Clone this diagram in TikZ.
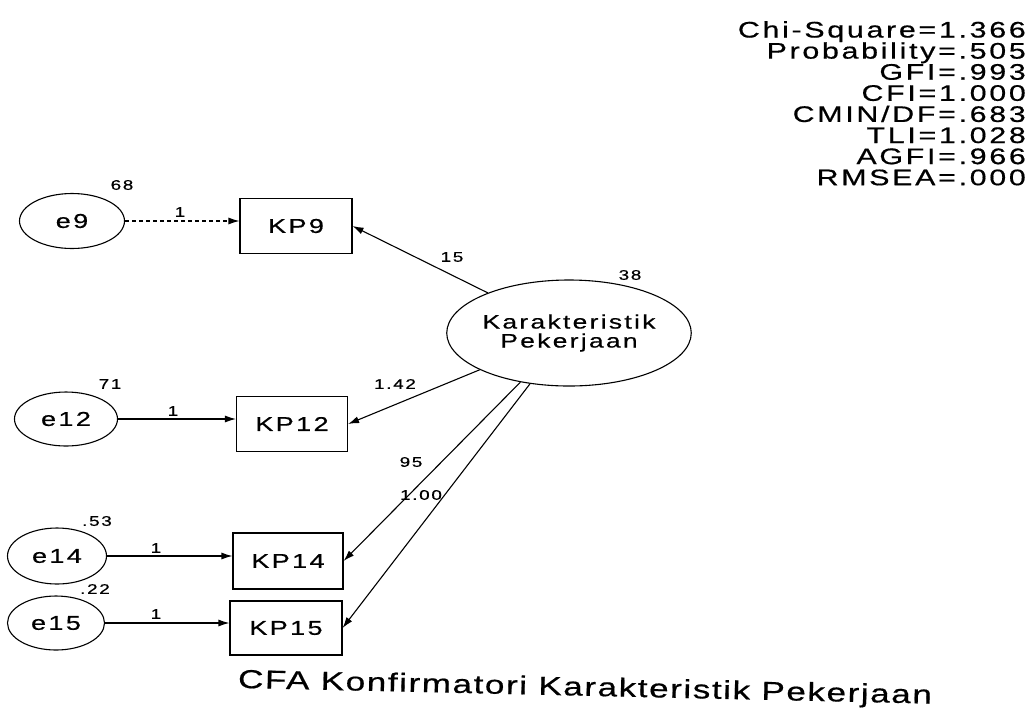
\documentclass[tikz,border=0pt]{standalone}
\usepackage{fontspec}
\setmainfont{Liberation Sans}
\newfontfamily\amosfont[FakeStretch=1.35,LetterSpace=12,FakeBold=0.6]{Liberation Sans}
\newfontfamily\titlefont[FakeStretch=1.35,LetterSpace=6,FakeBold=0.6]{Liberation Sans}
\usetikzlibrary{shapes.geometric,arrows.meta}
\begin{document}
\begin{tikzpicture}[x=1pt,y=-1pt,
  errv/.style={draw,ellipse,inner sep=0pt,line width=1.1pt,font=\amosfont\fontsize{20}{22}\selectfont},
  latv/.style={draw,ellipse,inner sep=0pt,line width=1.1pt,align=center,font=\amosfont\fontsize{19.5}{19}\selectfont},
  obs/.style={draw,rectangle,inner sep=0pt,line width=1.1pt,font=\amosfont\fontsize{20}{22}\selectfont},
  reg/.style={-{Latex[length=11pt,width=7pt]},line width=1.1pt},
  num/.style={font=\amosfont\fontsize{14}{15}\selectfont,inner sep=0pt},
  stats/.style={font=\amosfont\fontsize{22.5}{21.1}\selectfont,inner sep=0pt,align=right}]
\path[use as bounding box] (0,0) rectangle (1030,716);
% latent
\node[latv,minimum width=218pt,minimum height=106pt] (lat) at (569,333) {Karakteristik\\Pekerjaan};
% error terms
\node[errv,minimum width=105pt,minimum height=55pt] (e9) at (72,221) {e9};
\node[errv,minimum width=103pt,minimum height=54pt] (e12) at (66,419) {e12};
\node[errv,minimum width=99pt,minimum height=56pt] (e14) at (57,556) {e14};
\node[errv,minimum width=97pt,minimum height=54pt] (e15) at (56,623) {e15};
% observed
\node[obs,minimum width=112pt,minimum height=55pt] (kp9) at (296,226) {KP9};
\node[obs,minimum width=111pt,minimum height=55pt] (kp12) at (292,424) {KP12};
\node[obs,minimum width=110pt,minimum height=56pt] (kp14) at (288,561) {KP14};
\node[obs,minimum width=112pt,minimum height=54pt] (kp15) at (286,628) {KP15};
% error paths
\draw[reg,dash pattern=on 4pt off 3pt] (e9.east) -- (e9.east -| kp9.west);
\draw[reg] (e12.east) -- (e12.east -| kp12.west);
\draw[reg] (e14.east) -- (e14.east -| kp14.west);
\draw[reg] (e15.east) -- (e15.east -| kp15.west);
% loadings
\draw[reg] (lat) -- (kp9.east);
\draw[reg] (lat) -- (kp12.east);
\draw[reg] (lat) -- (kp14.east);
\draw[reg] (lat) -- (kp15.east);
% labels
\node[num] (l1a) at (180,212) {1};
\node[num] (l1b) at (173,411) {1};
\node[num] (l1c) at (156,548) {1};
\node[num] (l1d) at (156,614) {1};
\node[num] (v9) at (122,185) {68};
\node[num] (v12) at (110,384) {71};
\node[num] (v14) at (97,521) {.53};
\node[num] (v15) at (95,589) {.22};
\node[num] (vl) at (630,275) {38};
\node[num] (w9) at (452,257) {15};
\node[num] (w12) at (395,384) {1.42};
\node[num] (w14) at (411,462) {95};
\node[num] (w15) at (421,495) {1.00};
% fit statistics
\node[stats,anchor=north east] (fit) at (1026,21) {Chi-Square=1.366\\Probability=.505\\GFI=.993\\CFI=1.000\\CMIN/DF=.683\\TLI=1.028\\AGFI=.966\\RMSEA=.000};
% title
\node[inner sep=0pt,rotate=-1.3,font=\titlefont\fontsize{26}{28}\selectfont] (title) at (585,689) {CFA Konfirmatori Karakteristik Pekerjaan};
\end{tikzpicture}
\end{document}
